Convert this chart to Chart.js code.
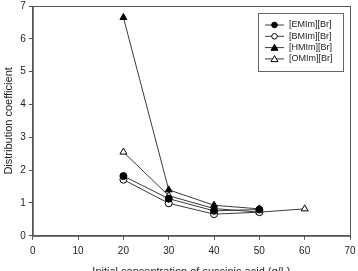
<!DOCTYPE html>
<html>
<head>
<meta charset="utf-8">
<script src="https://cdn.jsdelivr.net/npm/chart.js@4.4.0/dist/chart.umd.min.js"></script>
<style>
  html, body { margin: 0; padding: 0; background: #fff; }
  #wrap { width: 358px; height: 271px; }
</style>
</head>
<body>
<div id="wrap"><canvas id="chart"></canvas></div>
<script>
  const concentrations = [20, 30, 40, 50, 60];
  const emim = [1.82, 1.13, 0.76, 0.80];
  const bmim = [1.71, 0.99, 0.66, 0.72];
  const hmim = [6.65, 1.40, 0.93, 0.82];
  const omim = [2.55, 1.22, 0.83, 0.72, 0.82];
  const seriesNames = ['[EMIm][Br]', '[BMIm][Br]', '[HMIm][Br]', '[OMIm][Br]'];

  function pts(vals) {
    return vals.map((v, i) => ({ x: concentrations[i], y: v }));
  }

  const lineColor = '#3a3a3a';

  function ds(label, vals, style, fill) {
    return {
      label: label,
      data: pts(vals),
      borderColor: lineColor,
      borderWidth: 1,
      pointStyle: style,
      pointRadius: style === 'triangle' ? 4 : 3.5,
      pointBackgroundColor: fill,
      pointBorderColor: '#000',
      pointBorderWidth: 1,
      tension: 0
    };
  }

  // frame + legend box drawn by hand (legend sits inside the plot)
  const framePlugin = {
    id: 'frame',
    afterDraw(chart) {
      const ctx = chart.ctx;
      const a = chart.chartArea;
      ctx.save();
      ctx.strokeStyle = '#555';
      ctx.lineWidth = 1;
      ctx.strokeRect(a.left + 0.5, a.top + 0.5, a.right - a.left, a.bottom - a.top);

      const bx = 258.5, by = 13.5, bw = 85, bh = 58;
      ctx.strokeStyle = '#666';
      ctx.strokeRect(bx, by, bw, bh);
      ctx.font = '9px "Liberation Sans", Arial, sans-serif';
      ctx.textBaseline = 'middle';
      chart.data.datasets.forEach((d, i) => {
        const y = 25 + i * 11.3;
        ctx.strokeStyle = lineColor;
        ctx.beginPath();
        ctx.moveTo(265, y);
        ctx.lineTo(284, y);
        ctx.stroke();
        ctx.fillStyle = d.pointBackgroundColor;
        ctx.strokeStyle = '#000';
        ctx.beginPath();
        if (d.pointStyle === 'circle') {
          ctx.arc(274.5, y, 2.8, 0, Math.PI * 2);
        } else {
          ctx.moveTo(274.5, y - 3.3);
          ctx.lineTo(278, y + 2.7);
          ctx.lineTo(271, y + 2.7);
          ctx.closePath();
        }
        ctx.fill();
        ctx.stroke();
        ctx.fillStyle = '#222';
        ctx.fillText(seriesNames[i], 289, y);
      });
      ctx.restore();
    }
  };

  const font = { family: '"Liberation Sans", Arial, sans-serif', size: 10 };

  new Chart(document.getElementById('chart'), {
    type: 'line',
    data: {
      datasets: [
        ds(seriesNames[0], emim, 'circle', '#000'),
        ds(seriesNames[1], bmim, 'circle', '#fff'),
        ds(seriesNames[2], hmim, 'triangle', '#000'),
        ds(seriesNames[3], omim, 'triangle', '#fff')
      ]
    },
    options: {
      responsive: true,
      maintainAspectRatio: false,
      animation: false,
      layout: { padding: { top: 6, right: 8, bottom: -8, left: 2 } },
      plugins: {
        legend: { display: false },
        tooltip: { enabled: false }
      },
      scales: {
        x: {
          type: 'linear',
          min: 0,
          max: 70,
          afterFit(scale) { scale.paddingRight = 0; scale.paddingLeft = 0; },
          ticks: { stepSize: 10, color: '#222', font: font, padding: 5, maxRotation: 0 },
          grid: { drawOnChartArea: false, drawTicks: true, tickLength: 4, color: '#555' },
          border: { color: '#555' },
          title: {
            display: true,
            text: 'Initial concentration of succinic acid (g/L)',
            color: '#222',
            font: { family: font.family, size: 11 },
            padding: { top: 4, bottom: 0 }
          }
        },
        y: {
          min: 0,
          max: 7,
          afterFit(scale) { scale.paddingTop = 0; scale.paddingBottom = 0; },
          ticks: { stepSize: 1, color: '#222', font: font, padding: 3 },
          grid: { drawOnChartArea: false, drawTicks: true, tickLength: 4, color: '#555' },
          border: { color: '#555' },
          title: {
            display: true,
            text: 'Distribution coefficient',
            color: '#222',
            font: { family: font.family, size: 11 },
            padding: { top: 0, bottom: 2 }
          }
        }
      }
    },
    plugins: [framePlugin]
  });
</script>
</body>
</html>
